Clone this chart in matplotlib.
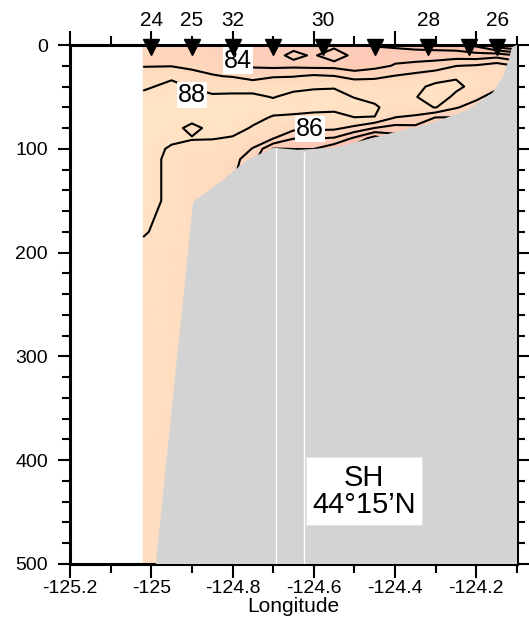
import numpy as np
import matplotlib
matplotlib.use('Agg')
import matplotlib.pyplot as plt
from matplotlib.colors import LinearSegmentedColormap
from matplotlib.ticker import MultipleLocator, FuncFormatter

plt.rcParams['font.family'] = ['Liberation Sans', 'DejaVu Sans']
plt.rcParams['axes.unicode_minus'] = False

# grid: longitude of each profile and depth levels (m)
lon = [-125.02, -124.95, -124.9, -124.85, -124.8, -124.75, -124.7, -124.65, -124.6,
       -124.55, -124.5, -124.45, -124.4, -124.35, -124.3, -124.25, -124.2, -124.15, -124.1]
depth = [0, 10, 20, 30, 40, 50, 60, 70, 80, 90, 100, 110, 130, 150, 180, 200, 300, 400, 500]

p_12502 = [85.0, 85.4, 85.9, 86.9, 87.8, 88.3, 88.5, 88.6, 88.6, 88.7, 88.7, 88.7, 88.7, 88.7, 88.1, 87.7, 87.5, 87.4, 87.3]
p_12495 = [84.9, 85.3, 85.9, 87.8, 88.3, 88.6, 88.7, 88.6, 88.5, 88.3, 87.8, 87.6, 87.6, 87.6, 87.6, 87.5, 87.4, 87.3, 87.3]
p_12490 = [84.8, 85.2, 85.7, 86.5, 87.9, 88.5, 88.6, 88.5, 87.6, 88.1, 87.4, 87.3, 87.3, 87.2, 87.2, 87.2, 87.2, 87.2, 87.2]
p_12485 = [84.7, 85.0, 85.5, 86.1, 87.5, 88.2, 88.6, 88.6, 88.4, 88.05, 87.5, 87.3, 87.0, 86.9, 86.9, 86.9, 86.9, 86.9, 86.9]
p_12480 = [84.5, 84.4, 84.3, 85.9, 87.2, 88.4, 88.6, 88.6, 88.4, 87.9, 87.3, 86.6, 86.1, 86.1, 86.1, 86.1, 86.1, 86.1, 86.1]
p_12475 = [83.9, 83.6, 83.8, 85.0, 87.6, 88.2, 88.5, 88.3, 87.9, 87.0, 85.9, 85.0, 85.0, 85.0, 85.0, 85.0, 85.0, 85.0, 85.0]
p_12470 = [83.7, 83.6, 83.5, 85.8, 87.6, 87.95, 88.4, 87.9, 87.0, 86.05, 81.9, 80.0, 80.0, 80.0, 80.0, 80.0, 80.0, 80.0, 80.0]
p_12465 = [83.6, 84.3, 83.6, 85.9, 87.7, 88.3, 88.4, 87.8, 86.6, 84.05, 82.05, 80.0, 80.0, 80.0, 80.0, 80.0, 80.0, 80.0, 80.0]
p_12460 = [83.5, 83.85, 83.4, 86.3, 87.85, 88.4, 88.3, 87.7, 86.5, 84.05, 82.05, 80.0, 80.0, 80.0, 80.0, 80.0, 80.0, 80.0, 80.0]
p_12455 = [83.6, 84.8, 83.4, 86.05, 87.9, 88.4, 88.3, 87.6, 86.4, 83.8, 80.5, 79.0, 79.0, 79.0, 79.0, 79.0, 79.0, 79.0, 79.0]
p_12450 = [83.2, 83.6, 82.8, 85.25, 87.6, 87.95, 88.5, 87.98, 85.5, 81.6, 79.0, 78.0, 78.0, 78.0, 78.0, 78.0, 78.0, 78.0, 78.0]
p_12445 = [81.9, 82.6, 83.4, 85.5, 87.4, 87.7, 88.15, 87.98, 83.95, 79.0, 77.0, 77.0, 77.0, 77.0, 77.0, 77.0, 77.0, 77.0, 77.0]
p_12440 = [81.4, 83.4, 84.15, 86.1, 87.3, 87.7, 87.5, 85.95, 83.2, 81.0, 79.5, 79.0, 79.0, 79.0, 79.0, 79.0, 79.0, 79.0, 79.0]
p_12435 = [81.2, 83.0, 84.6, 86.6, 87.6, 87.95, 87.3, 85.6, 83.4, 81.0, 81.0, 81.0, 81.0, 81.0, 81.0, 81.0, 81.0, 81.0, 81.0]
p_12430 = [81.0, 83.0, 85.0, 87.2, 88.4, 88.5, 88.1, 83.9, 81.0, 81.0, 81.0, 81.0, 81.0, 81.0, 81.0, 81.0, 81.0, 81.0, 81.0]
p_12425 = [80.8, 83.0, 85.95, 87.9, 88.2, 87.8, 86.2, 83.9, 83.9, 83.9, 83.9, 83.9, 83.9, 83.9, 83.9, 83.9, 83.9, 83.9, 83.9]
p_12420 = [79.5, 82.8, 86.2, 87.6, 87.7, 86.5, 85.0, 85.0, 85.0, 85.0, 85.0, 85.0, 85.0, 85.0, 85.0, 85.0, 85.0, 85.0, 85.0]
p_12415 = [76.5, 83.2, 87.0, 87.3, 86.5, 85.0, 85.0, 85.0, 85.0, 85.0, 85.0, 85.0, 85.0, 85.0, 85.0, 85.0, 85.0, 85.0, 85.0]
p_12410 = [75.0, 82.0, 85.9, 87.0, 86.5, 85.0, 85.0, 85.0, 85.0, 85.0, 85.0, 85.0, 85.0, 85.0, 85.0, 85.0, 85.0, 85.0, 85.0]

profiles = [p_12502, p_12495, p_12490, p_12485, p_12480, p_12475, p_12470, p_12465, p_12460, p_12455,
            p_12450, p_12445, p_12440, p_12435, p_12430, p_12425, p_12420, p_12415, p_12410]

levels = [78, 80, 82, 84, 86, 88]

# bottom topography
bathy_lon = [-124.989, -124.897, -124.824, -124.765, -124.70, -124.64, -124.55, -124.47,
             -124.39, -124.308, -124.225, -124.16, -124.135, -124.12, -124.112, -124.10]
bathy_depth = [500, 151, 130, 111, 99, 101, 99, 91, 83, 75, 63, 46, 31, 14, 2, 0]
gap_lon = [-124.694, -124.625]
gap_top = [99, 103]

# stations
sta_lon = [-125.0, -124.9, -124.8, -124.7, -124.578, -124.449, -124.318, -124.217, -124.148]
sta_label = ['24', '25', '32', '', '30', '', '28', '', '26']

val = np.column_stack(profiles)
X, Y = np.meshgrid(lon, depth)

cmap = LinearSegmentedColormap.from_list('sect', [
    (0.0, '#FBB3A0'), (4 / 14, '#FCC0AD'), (7 / 14, '#FDCBB7'), (9 / 14, '#FED4BD'),
    (11 / 14, '#FFDCBF'), (12.5 / 14, '#FFE3C5'), (1.0, '#FFE8CA')])

fig = plt.figure(figsize=(5.29, 6.23), dpi=100)
ax = fig.add_axes([70 / 529, 1 - 564 / 623, 447 / 529, 519 / 623])

ax.pcolormesh(X, Y, val, shading='gouraud', cmap=cmap, vmin=76, vmax=90, zorder=1)
ax.contour(X, Y, val, levels=levels, colors='k', linewidths=1.5, zorder=2)

ax.fill(bathy_lon + [-124.10], bathy_depth + [500], color='#D3D3D3', lw=0, zorder=3)
ax.vlines(gap_lon, gap_top, 500, colors='white', lw=1, zorder=4)

lab = dict(ha='center', va='center', fontsize=18, zorder=5,
           bbox=dict(boxstyle='square,pad=0.05', fc='white', ec='none'))
ax.text(-124.787, 15, '84', **lab)
ax.text(-124.90, 48, '88', **lab)
ax.text(-124.609, 81, '86', **lab)

ax.text(-124.477, 430, 'SH\n44\u00b015\u2019N', ha='center', va='center', fontsize=21,
        linespacing=0.95, zorder=6,
        bbox=dict(boxstyle='square,pad=0.22', fc='white', ec='#e4e4e4', lw=0.8))

ax.plot(sta_lon, [1.5] * len(sta_lon), 'v', color='k', markersize=11, clip_on=False, zorder=7)
for x, s in zip(sta_lon, sta_label):
    if s:
        ax.text(x, -24, s, ha='center', va='center', fontsize=15, clip_on=False)

ax.set_xlim(-125.2, -124.1)
ax.set_ylim(500, 0)
ax.xaxis.set_major_locator(MultipleLocator(0.2))
ax.xaxis.set_minor_locator(MultipleLocator(0.1))
ax.yaxis.set_major_locator(MultipleLocator(100))
ax.yaxis.set_minor_locator(MultipleLocator(20))
ax.xaxis.set_major_formatter(FuncFormatter(lambda v, p: f'{round(v, 1):g}'))
ax.tick_params(which='both', direction='out', top=True, right=True, width=1.5, labelsize=14)
ax.tick_params(axis='x', which='major', length=10, pad=1.5)
ax.tick_params(axis='x', which='minor', length=6.5)
ax.tick_params(axis='y', which='major', length=9, pad=7)
ax.tick_params(axis='y', which='minor', length=5.5)
for sp in ax.spines.values():
    sp.set_linewidth(2.2)
ax.set_xlabel('Longitude', fontsize=15, labelpad=0)

fig.savefig('out.png', dpi=100)
